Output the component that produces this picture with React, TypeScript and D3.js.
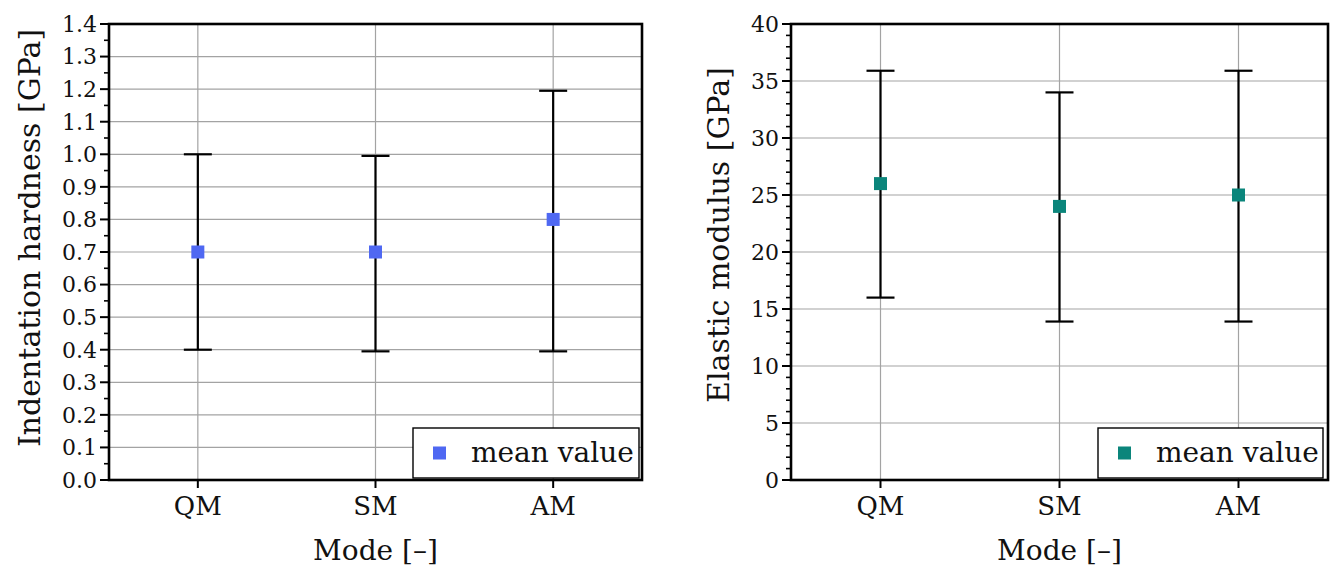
import React from "react";
import * as d3 from "d3";

const categories = ["QM", "SM", "AM"];

const hardnessMean = [0.7, 0.7, 0.8];
const hardnessLow = [0.4, 0.395, 0.395];
const hardnessHigh = [1.0, 0.995, 1.195];
const hardnessTicks = [0, 0.1, 0.2, 0.3, 0.4, 0.5, 0.6, 0.7, 0.8, 0.9, 1.0, 1.1, 1.2, 1.3, 1.4];

const modulusMean = [26, 24, 25];
const modulusLow = [16, 13.9, 13.9];
const modulusHigh = [35.9, 34, 35.9];
const modulusTicks = [0, 5, 10, 15, 20, 25, 30, 35, 40];

const FONT = "'DejaVu Serif', serif";

type PanelProps = {
  x0: number;
  x1: number;
  y0: number;
  y1: number;
  yMax: number;
  ticks: number[];
  minorStep: number;
  fmt: (v: number) => string;
  means: number[];
  lows: number[];
  highs: number[];
  color: string;
  yTitle: string;
  yTitleX: number;
  yTitleY: number;
  xTitleY: number;
  legendX: number;
  legendW: number;
};

function Panel(p: PanelProps) {
  const x = d3
    .scaleLinear()
    .domain([0.5, categories.length + 0.5])
    .range([p.x0, p.x1]);
  const y = d3.scaleLinear().domain([0, p.yMax]).range([p.y1, p.y0]);
  const minor = d3.range(0, p.yMax + 1e-9, p.minorStep).filter(
    (v) => !p.ticks.some((t) => Math.abs(t - v) < 1e-9)
  );
  const cap = 14;
  const ms = 13;
  const legendY = 428;
  const legendH = 50;
  return (
    <g>
      {p.ticks.map((t) => (
        <line
          key={"gh" + t}
          x1={p.x0}
          x2={p.x1}
          y1={y(t)}
          y2={y(t)}
          stroke="#a3a3a3"
          strokeWidth={1.2}
        />
      ))}
      {categories.map((c, i) => (
        <line
          key={"gv" + c}
          x1={x(i + 1)}
          x2={x(i + 1)}
          y1={p.y0}
          y2={p.y1}
          stroke="#a3a3a3"
          strokeWidth={1.2}
        />
      ))}
      {categories.map((c, i) => (
        <g key={"eb" + c} stroke="#000" strokeWidth={2.2}>
          <line x1={x(i + 1)} x2={x(i + 1)} y1={y(p.lows[i])} y2={y(p.highs[i])} />
          <line x1={x(i + 1) - cap} x2={x(i + 1) + cap} y1={y(p.lows[i])} y2={y(p.lows[i])} />
          <line x1={x(i + 1) - cap} x2={x(i + 1) + cap} y1={y(p.highs[i])} y2={y(p.highs[i])} />
        </g>
      ))}
      {categories.map((c, i) => (
        <rect
          key={"m" + c}
          x={x(i + 1) - ms / 2}
          y={y(p.means[i]) - ms / 2}
          width={ms}
          height={ms}
          fill={p.color}
        />
      ))}
      <rect
        x={p.x0}
        y={p.y0}
        width={p.x1 - p.x0}
        height={p.y1 - p.y0}
        fill="none"
        stroke="#000"
        strokeWidth={2.6}
      />
      {p.ticks.map((t) => (
        <g key={"yt" + t}>
          <line x1={p.x0 - 9} x2={p.x0} y1={y(t)} y2={y(t)} stroke="#000" strokeWidth={2} />
          <text
            x={p.x0 - 12}
            y={y(t)}
            dy="0.36em"
            textAnchor="end"
            fontFamily={FONT}
            fontSize={22}
            fill="#111"
          >
            {p.fmt(t)}
          </text>
        </g>
      ))}
      {minor.map((t) => (
        <line
          key={"ym" + t}
          x1={p.x0 - 5}
          x2={p.x0}
          y1={y(t)}
          y2={y(t)}
          stroke="#000"
          strokeWidth={1.6}
        />
      ))}
      {categories.map((c, i) => (
        <g key={"xt" + c}>
          <line x1={x(i + 1)} x2={x(i + 1)} y1={p.y1} y2={p.y1 + 8} stroke="#000" strokeWidth={2} />
          <text
            x={x(i + 1)}
            y={p.y1 + 35}
            textAnchor="middle"
            fontFamily={FONT}
            fontSize={26}
            fill="#111"
          >
            {c}
          </text>
        </g>
      ))}
      <text
        x={(p.x0 + p.x1) / 2}
        y={p.xTitleY}
        textAnchor="middle"
        fontFamily={FONT}
        fontSize={28}
        fill="#111"
      >
        Mode [–]
      </text>
      <text
        transform={`translate(${p.yTitleX},${p.yTitleY}) rotate(-90)`}
        textAnchor="middle"
        dy="0.36em"
        fontFamily={FONT}
        fontSize={30}
        fill="#111"
      >
        {p.yTitle}
      </text>
      <rect
        x={p.legendX}
        y={legendY}
        width={p.legendW}
        height={legendH}
        fill="#fff"
        stroke="#000"
        strokeWidth={1.4}
      />
      <rect x={p.legendX + 20} y={legendY + 25 - ms / 2} width={ms} height={ms} fill={p.color} />
      <text
        x={p.legendX + 58}
        y={legendY + 25}
        dy="0.33em"
        fontFamily={FONT}
        fontSize={28}
        fill="#111"
      >
        mean value
      </text>
    </g>
  );
}

export default function App() {
  const f1 = d3.format(".1f");
  const f0 = d3.format("d");
  return (
    <svg
      width={1331}
      height={569}
      style={{ position: "absolute", left: 0, top: 0, display: "block", background: "#fff" }}
    >
      <rect width={1331} height={569} fill="#fff" />
      <Panel
        x0={109}
        x1={642}
        y0={24}
        y1={480}
        yMax={1.4}
        ticks={hardnessTicks}
        minorStep={0.05}
        fmt={f1}
        means={hardnessMean}
        lows={hardnessLow}
        highs={hardnessHigh}
        color="#4f68f2"
        yTitle="Indentation hardness [GPa]"
        yTitleX={29}
        yTitleY={238}
        xTitleY={560}
        legendX={413}
        legendW={226}
      />
      <Panel
        x0={791}
        x1={1328}
        y0={24}
        y1={480}
        yMax={40}
        ticks={modulusTicks}
        minorStep={1}
        fmt={f0}
        means={modulusMean}
        lows={modulusLow}
        highs={modulusHigh}
        color="#0b857b"
        yTitle="Elastic modulus [GPa]"
        yTitleX={718}
        yTitleY={235}
        xTitleY={560}
        legendX={1098}
        legendW={225}
      />
    </svg>
  );
}
